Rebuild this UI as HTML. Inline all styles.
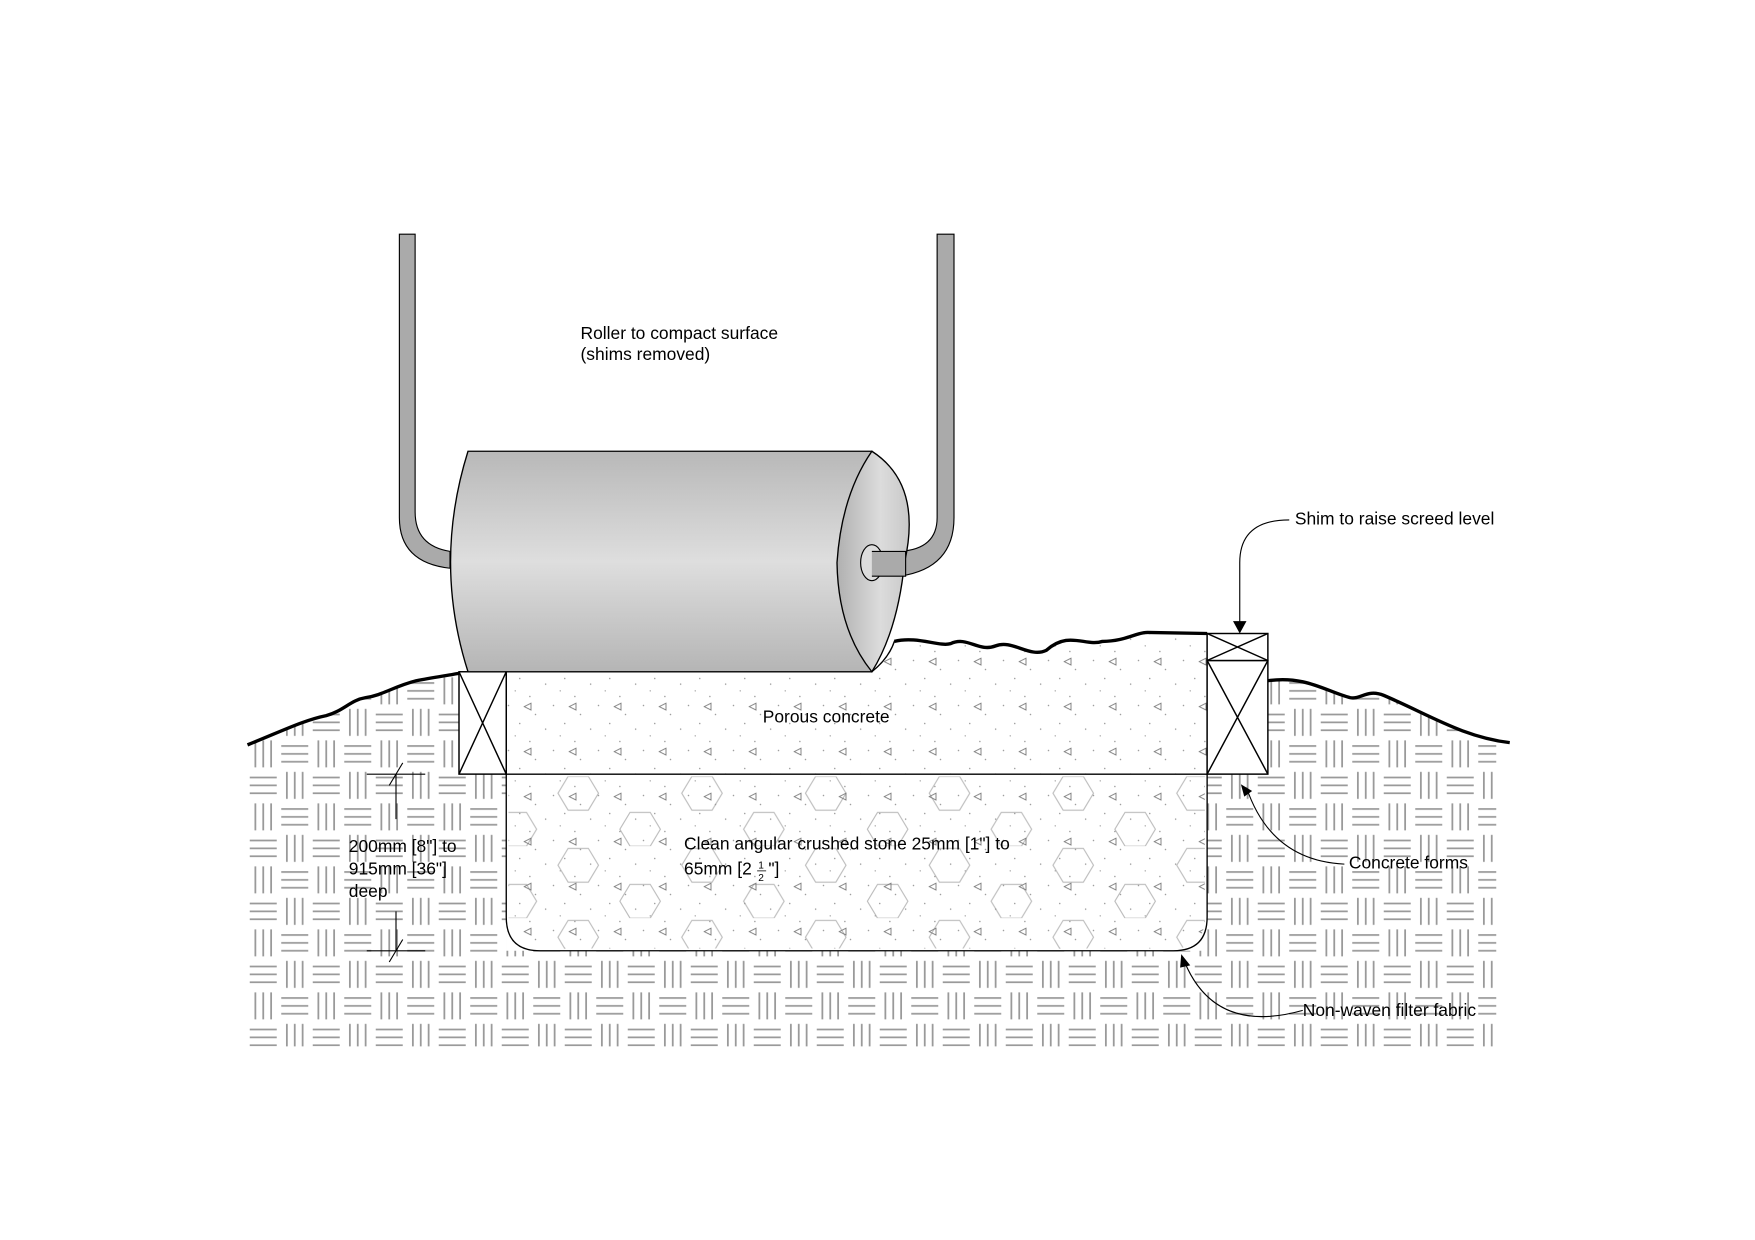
<!DOCTYPE html>
<html><head><style>html,body{margin:0;padding:0;background:#fff;}svg{display:block}</style></head>
<body>
<svg width="1755" height="1240" viewBox="0 0 1560 1102" xmlns="http://www.w3.org/2000/svg" font-family="Liberation Sans, Arial, sans-serif">
<defs>
<pattern id="bw" x="220" y="600" width="56" height="56" patternUnits="userSpaceOnUse">
<g stroke="#9a9a9a" stroke-width="1.6" fill="none">
<line x1="7" y1="2" x2="7" y2="26"/><line x1="14" y1="2" x2="14" y2="26"/><line x1="21" y1="2" x2="21" y2="26"/>
<line x1="30" y1="7" x2="54" y2="7"/><line x1="30" y1="14" x2="54" y2="14"/><line x1="30" y1="21" x2="54" y2="21"/>
<line x1="2" y1="35" x2="26" y2="35"/><line x1="2" y1="42" x2="26" y2="42"/><line x1="2" y1="49" x2="26" y2="49"/>
<line x1="35" y1="30" x2="35" y2="54"/><line x1="42" y1="30" x2="42" y2="54"/><line x1="49" y1="30" x2="49" y2="54"/>
</g></pattern>
<linearGradient id="rg" x1="0" y1="0" x2="0" y2="1">
<stop offset="0" stop-color="#b8b8b8"/><stop offset="0.5" stop-color="#dedede"/><stop offset="1" stop-color="#b5b5b5"/></linearGradient>
<linearGradient id="eg" x1="0" y1="0" x2="1" y2="0">
<stop offset="0" stop-color="#b0b0b0"/><stop offset="0.6" stop-color="#dcdcdc"/><stop offset="1" stop-color="#c8c8c8"/></linearGradient>
<pattern id="dots" width="40" height="40" patternUnits="userSpaceOnUse">
<g fill="#999"><circle cx="5" cy="8" r="0.7"/><circle cx="22" cy="3" r="0.7"/><circle cx="31" cy="19" r="0.7"/><circle cx="12" cy="27" r="0.7"/><circle cx="36" cy="35" r="0.7"/><circle cx="18" cy="14" r="0.6"/></g>
<path d="M26 28 l6 -3 l0 6 z" fill="none" stroke="#777" stroke-width="0.8"/>
</pattern>
<pattern id="hex" x="450" y="688" width="110" height="64" patternUnits="userSpaceOnUse">
<g fill="none" stroke="#bbb" stroke-width="1"><path d="M55 2 l18 0 l9 15 l-9 15 l-18 0 l-9 -15 z"/><path d="M0 34 l18 0 l9 15 l-9 15 l-18 0 l-9 -15 z"/><path d="M110 34 l18 0 l9 15 l-9 15 l-18 0 l-9 -15 z"/></g>
</pattern>
</defs>
<!-- ground -->
<path d="M220 662 C250 650 270 640 290 636 C305 632 312 622 325 620 C340 618 350 610 370 605 C385 602 400 600 410 598 L450 598 L450 688 L1073 688 L1127 688 L1127 605 C1160 600 1180 615 1200 620 C1210 622 1215 612 1230 618 C1270 635 1300 655 1342 660 L1330 660 L1330 930 L220 930 Z" fill="url(#bw)"/>
<rect x="450" y="688" width="623" height="157" fill="#fff"/>
<!-- stone -->
<path d="M450 688 L1073 688 L1073 815 Q1073 845 1043 845 L480 845 Q450 845 450 815 Z" fill="#fff" stroke="#000" stroke-width="1.2"/>
<path d="M452 690 L1071 690 L1071 815 Q1071 843 1043 843 L480 843 Q452 843 452 815 Z" fill="url(#hex)"/>
<path d="M452 690 L1071 690 L1071 815 Q1071 843 1043 843 L480 843 Q452 843 452 815 Z" fill="url(#dots)"/>
<!-- porous concrete -->
<path d="M450 597 L775 597 Q790 585 795 570 C815 565 835 575 845 572 C860 565 870 580 885 574 C900 568 915 585 930 578 C950 560 965 575 980 570 C1000 570 1010 562 1020 562 L1073 563 L1073 688 L450 688 Z" fill="#fff"/>
<path d="M450 597 L775 597 Q790 585 795 570 C815 565 835 575 845 572 C860 565 870 580 885 574 C900 568 915 585 930 578 C950 560 965 575 980 570 C1000 570 1010 562 1020 562 L1073 563 L1073 688 L450 688 Z" fill="url(#dots)" stroke="#000" stroke-width="1.2"/>
<path d="M795 570 C815 565 835 575 845 572 C860 565 870 580 885 574 C900 568 915 585 930 578 C950 560 965 575 980 570 C1000 570 1010 562 1020 562 L1073 563" fill="none" stroke="#000" stroke-width="3"/>
<!-- ground surface lines -->
<path d="M220 662 C250 650 270 640 290 636 C305 632 312 622 325 620 C340 618 350 610 370 605 C385 602 400 600 410 598" fill="none" stroke="#000" stroke-width="3"/>
<path d="M1127 605 C1160 600 1180 615 1200 620 C1210 622 1215 612 1230 618 C1270 635 1300 655 1342 660" fill="none" stroke="#000" stroke-width="3"/>
<!-- forms -->
<g fill="#fff" stroke="#000" stroke-width="1.3">
<rect x="408" y="597" width="42" height="91"/><path d="M408 597 L450 688 M450 597 L408 688" fill="none"/>
<rect x="1073" y="587" width="54" height="101"/><path d="M1073 587 L1127 688 M1127 587 L1073 688" fill="none"/>
<rect x="1073" y="563" width="54" height="24"/><path d="M1073 563 L1127 587 M1127 563 L1073 587" fill="none"/>
</g>
<!-- handles -->
<path d="M355 208 L355 460 Q355 500 400 505 L400 490 Q369 485 369 455 L369 208 Z" fill="#aaa" stroke="#000" stroke-width="1"/>
<path d="M833 208 L833 460 Q833 488 800 490 L775 490 L775 512 L800 512 Q848 505 848 460 L848 208 Z" fill="#aaa" stroke="#000" stroke-width="1"/>
<!-- roller -->
<path d="M416 401 L775 401 L775 597 L416 597 Q385 500 416 401 Z" fill="url(#rg)" stroke="#000" stroke-width="1.2"/>
<path d="M775 401 Q820 430 804 500 Q798 560 775 597 Q745 560 744 500 Q748 440 775 401 Z" fill="url(#eg)" stroke="#000" stroke-width="1.2"/>
<ellipse cx="775" cy="500" rx="10" ry="16" fill="#ddd" stroke="#000" stroke-width="1"/>
<path d="M775 490 L805 490 L805 512 L775 512" fill="#aaa" stroke="#000" stroke-width="1"/>
<!-- dimension -->
<g stroke="#000" stroke-width="1">
<line x1="326" y1="688" x2="378" y2="688"/><line x1="352" y1="688" x2="352" y2="728"/><line x1="346" y1="698" x2="358" y2="678"/>
<line x1="326" y1="845" x2="378" y2="845"/><line x1="352" y1="810" x2="352" y2="845"/><line x1="346" y1="855" x2="358" y2="835"/>
</g>
<!-- leaders -->
<g fill="none" stroke="#000" stroke-width="1">
<path d="M1146 462 Q1102 462 1102 500 L1102 555"/>
<path d="M1195 768 Q1130 765 1108 700"/>
<path d="M1158 898 Q1080 920 1053 855"/>
</g>
<g fill="#000">
<path d="M1096 552 L1108 552 L1102 563 Z"/>
<path d="M1103 697 L1113 703 L1106 708 Z"/>
<path d="M1050 848 L1058 858 L1049 860 Z"/>
</g>
<g font-size="15.5" fill="#000">
<text x="516" y="301">Roller to compact surface</text>
<text x="516" y="320">(shims removed)</text>
<text x="1151" y="466">Shim to raise screed level</text>
<text x="678" y="642">Porous concrete</text>
<text x="608" y="755">Clean angular crushed stone 25mm [1"] to</text>
<text x="608" y="777">65mm [2</text><text x="674" y="772" font-size="9">1</text><text x="674" y="783" font-size="9">2</text><text x="683" y="777">"]</text>
<line x1="673" y1="774" x2="681" y2="774" stroke="#000" stroke-width="0.7"/>
<text x="310" y="757">200mm [8"] to</text>
<text x="310" y="777">915mm [36"]</text>
<text x="310" y="797">deep</text>
<text x="1199" y="772">Concrete forms</text>
<text x="1158" y="903">Non-waven filter fabric</text>
</g>
</svg>
</body></html>
